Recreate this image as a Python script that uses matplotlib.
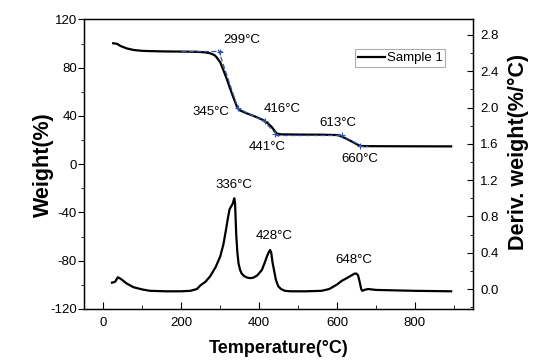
import numpy as np
import matplotlib.pyplot as plt
from matplotlib.ticker import MultipleLocator

plt.rcParams['font.family'] = ['Liberation Sans', 'DejaVu Sans']
plt.rcParams['axes.unicode_minus'] = False

# TGA curve (weight %, left axis)
temp_tga = [25, 35, 44, 60, 78, 100, 120, 160, 200, 240, 260, 274, 285, 291,
            300, 308, 317, 325, 333, 338, 344, 350, 368, 390, 411, 422, 432,
            440, 445, 455, 500, 560, 600, 607, 620, 640, 658, 670, 750, 893]
weight = [100.3, 99.8, 98.0, 96.0, 94.7, 94.0, 93.8, 93.5, 93.4, 93.2, 92.8,
          92.0, 90.5, 88.5, 84.5, 78.0, 70.5, 63.0, 56.0, 51.8, 46.8, 44.8,
          42.2, 39.5, 36.5, 34.0, 31.0, 27.5, 25.5, 24.8, 24.6, 24.5, 24.2,
          23.6, 21.8, 18.5, 15.3, 15.0, 14.9, 14.8]

# DTG curve (deriv. weight, right axis)
temp_dtg = [22, 30, 37, 45, 60, 77, 100, 120, 160, 200, 223, 240, 249, 262,
            274, 288, 300, 308, 315, 320, 324, 328, 332, 336, 338, 341, 344,
            347, 351, 355, 362, 370, 377, 385, 395, 407, 415, 420, 425, 428,
            431, 434, 438, 443, 449, 456, 466, 480, 520, 560, 580, 600, 612,
            625, 637, 645, 650, 654, 658, 662, 665, 670, 680, 700, 800, 893]
deriv = [0.07, 0.08, 0.13, 0.11, 0.06, 0.02, -0.005, -0.02, -0.025, -0.025,
         -0.02, 0.0, 0.04, 0.08, 0.14, 0.24, 0.36, 0.49, 0.66, 0.79, 0.88,
         0.91, 0.94, 1.0, 0.95, 0.6, 0.4, 0.28, 0.21, 0.17, 0.14, 0.125, 0.12,
         0.125, 0.15, 0.21, 0.3, 0.36, 0.41, 0.43, 0.4, 0.3, 0.21, 0.1, 0.03,
         0.0, -0.02, -0.025, -0.025, -0.02, 0.0, 0.05, 0.09, 0.12, 0.15, 0.17,
         0.17, 0.15, 0.08, 0.0, -0.02, -0.01, 0.0, -0.01, -0.02, -0.025]

# onset points and tangent segments (blue dashed)
onset_temp = [299, 345, 416, 441, 613, 660]
onset_wt = [93.2, 46.5, 36.0, 25.2, 24.3, 15.2]
onset_lbl = ["299°C", "345°C", "416°C", "441°C", "613°C", "660°C"]
onset_lbl_x = [355, 277, 460, 421, 601, 658]
onset_lbl_y = [103, 43.5, 45.7, 14.5, 34, 4]
tan_x = [(200, 305), (295, 350), (340, 418), (408, 450), (440, 615), (605, 665), (655, 680)]
tan_y = [(93.5, 93.5), (95, 42), (47, 35), (37, 23), (24.6, 24.6), (25, 14.6), (15, 15)]

peak_lbl = ["336°C", "428°C", "648°C"]
peak_lbl_x = [336, 438, 643]
peak_lbl_y = [1.15, 0.58, 0.32]

fig = plt.figure(figsize=(5.35, 3.63), dpi=100)
ax = fig.add_axes([0.157, 0.1488, 0.7277, 0.7975])
ax2 = ax.twinx()

ax.plot(temp_tga, weight, color="black", lw=1.6, label="Sample 1", zorder=3)
for (x0, x1), (y0, y1) in zip(tan_x, tan_y):
    ax.plot([x0, x1], [y0, y1], color="#3355aa", lw=0.9, ls=(0, (4, 2)), zorder=4)
ax.plot(onset_temp, onset_wt, ls="none", marker="+", color="#3355aa", ms=4.5, mew=0.8, zorder=5)
for t, lx, ly in zip(onset_lbl, onset_lbl_x, onset_lbl_y):
    ax.text(lx, ly, t, ha="center", va="center", fontsize=9.5)

ax2.plot(temp_dtg, deriv, color="black", lw=1.6)
for t, lx, ly in zip(peak_lbl, peak_lbl_x, peak_lbl_y):
    ax2.text(lx, ly, t, ha="center", va="center", fontsize=9.5)

ax.set_xlim(-50, 950)
ax.set_ylim(-120, 120)
ax2.set_ylim(-0.22, 2.97)

ax.xaxis.set_major_locator(MultipleLocator(200))
ax.xaxis.set_minor_locator(MultipleLocator(100))
ax.yaxis.set_major_locator(MultipleLocator(40))
ax.yaxis.set_minor_locator(MultipleLocator(20))
ax2.yaxis.set_major_locator(MultipleLocator(0.4))
ax2.yaxis.set_minor_locator(MultipleLocator(0.2))
ax2.yaxis.set_major_formatter(plt.FormatStrFormatter("%.1f"))

ax.tick_params(axis="x", which="both", direction="in", labelsize=9.5, pad=6)
ax.tick_params(axis="x", which="major", length=5)
ax.tick_params(axis="x", which="minor", length=3)
ax.tick_params(axis="y", which="both", direction="out", labelsize=9.5, pad=1)
ax.tick_params(axis="y", which="major", length=4)
ax.tick_params(axis="y", which="minor", length=2.5)
ax2.tick_params(axis="y", which="both", direction="in", labelsize=9.5, pad=5)
ax2.tick_params(axis="y", which="major", length=4)
ax2.tick_params(axis="y", which="minor", length=2.5)

for sp in ax.spines.values():
    sp.set_linewidth(1.0)

ax.set_xlabel("Temperature(°C)", fontsize=13, fontweight="bold", labelpad=8)
ax.set_ylabel("Weight(%)", fontsize=15.5, fontweight="bold")
ax.yaxis.set_label_coords(-0.078, 0.497)
ax2.set_ylabel("Deriv. weight(%/°C)", fontsize=15.5, fontweight="bold")
ax2.yaxis.set_label_coords(1.088, 0.544)

leg = ax.legend(loc="upper right", bbox_to_anchor=(0.928, 0.897), fontsize=9.5,
                frameon=True, fancybox=False, handlelength=2.1, handletextpad=0.1,
                borderpad=0.2, borderaxespad=0)
leg.get_frame().set_edgecolor("#999999")
leg.get_frame().set_linewidth(0.8)

fig.savefig("out.png", dpi=100)
